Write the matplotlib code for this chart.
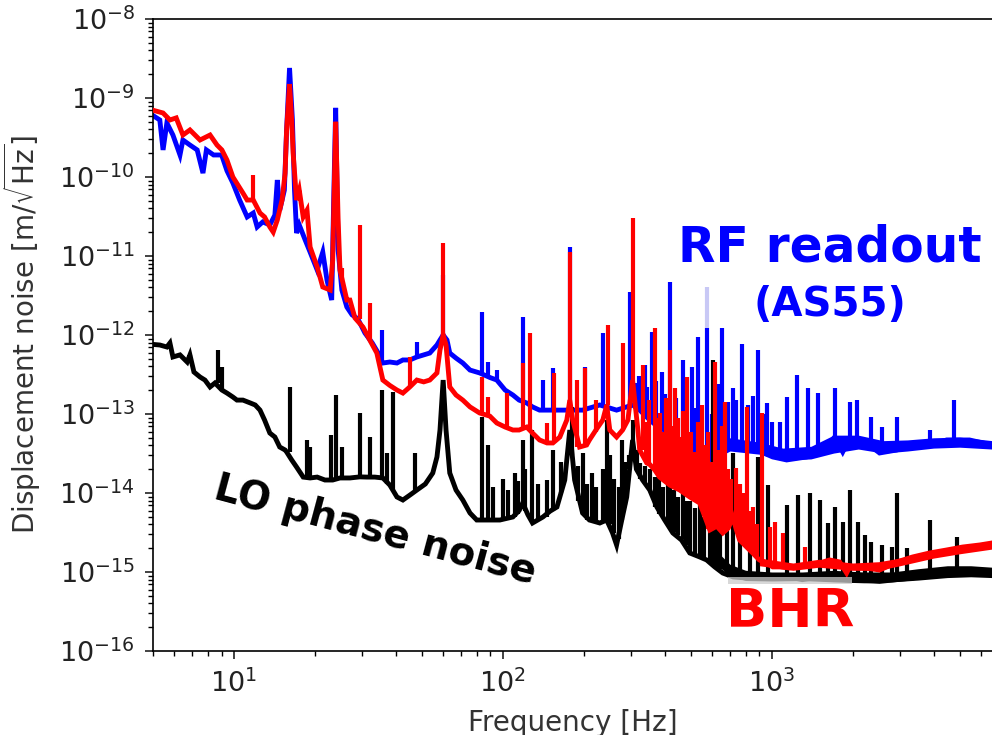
import matplotlib
matplotlib.use("Agg")
import matplotlib.pyplot as plt
from matplotlib.patches import Rectangle

# ---------------- data ----------------
# RF readout (AS55) - blue: broadband floor
blue_f = [5.0, 5.3, 5.45, 5.63, 5.93, 6.3, 6.46, 6.86, 7.3, 7.67, 7.9, 8.4, 9.0, 9.42, 9.91,
          10.5, 11.2, 11.8, 12.2, 12.8, 13.6, 14.2, 14.5, 14.8, 15.4, 15.7, 16.1, 16.5, 16.8,
          17.1, 17.5, 18.4, 19.2, 20.4, 21.4, 22.2, 23.1, 23.5, 23.9, 24.4, 25.2, 26.3, 27.5,
          28.9, 30.7, 32.7, 34.4, 35.8, 38, 40.4, 42.5, 45.1, 47.9, 50.8, 53.5, 56.9, 58.4,
          60, 62, 63.5, 67, 71, 75.5, 82, 89.5, 95, 102, 109, 115, 122.7, 129, 137, 153.6,
          173, 198, 229.5, 265, 304, 323, 352, 383, 429, 455, 496, 540, 573, 614, 680, 760,
          880, 1009, 1137, 1349, 1600, 1715, 1838, 1950, 2180, 2520, 2915, 3345, 3865, 4475,
          5445, 6600]
blue_v = [6.0e-10, 5.27e-10, 2.2e-10, 4.83e-10, 3.4e-10, 1.9e-10, 2.94e-10, 2.54e-10, 2.2e-10,
          1.12e-10, 2.2e-10, 1.9e-10, 1.9e-10, 1.2e-10, 8.39e-11, 5.11e-11, 3.12e-11, 3.5e-11,
          2.33e-11, 2.7e-11, 2.47e-11, 3.3e-11, 9.16e-11, 3.8e-11, 6.8e-11, 3.94e-10, 2.4e-9,
          5.3e-10, 6.8e-11, 1.95e-11, 2.47e-11, 1.6e-11, 1.12e-11, 6.65e-12, 1.12e-11, 4.9e-12,
          2.77e-12, 5.1e-11, 7.5e-10, 1.2e-11, 3.71e-12, 2.26e-12, 1.8e-12, 1.6e-12, 1.06e-12,
          7.92e-13, 5.91e-13, 4.42e-13, 4.55e-13, 4.42e-13, 4.83e-13, 4.83e-13, 5.27e-13,
          5.6e-13, 5.91e-13, 7.47e-13, 8.65e-13, 1.0e-12, 8.65e-13, 5.91e-13, 5.1e-13, 4.42e-13,
          3.6e-13, 3.31e-13, 2.9e-13, 2.69e-13, 2.01e-13, 1.74e-13, 1.5e-13, 1.38e-13, 1.23e-13,
          1.12e-13, 1.12e-13, 1.12e-13, 1.12e-13, 1.3e-13, 1.12e-13, 1.3e-13, 1.12e-13, 8.4e-14,
          6.6e-14, 5.74e-14, 4.69e-14, 3.5e-14, 2.86e-14, 2.5e-14, 3.0e-14, 4.3e-14, 3.82e-14,
          3.5e-14, 2.86e-14, 2.62e-14, 2.86e-14, 3.82e-14, 5.1e-14, 3.31e-14, 4.9e-14, 4.69e-14,
          3.21e-14, 3.5e-14, 4.05e-14, 4.05e-14, 4.69e-14, 4.69e-14, 4.05e-14]
# blue noise band (lower / upper envelope) at high frequency
blue_band_f = [560, 700, 900, 1100, 1400, 1700, 2100, 2600, 3200, 4000, 5000, 6600]
blue_band_lo = [2.3e-14, 3.4e-14, 3.1e-14, 2.6e-14, 2.7e-14, 3.2e-14, 3.6e-14, 3.2e-14, 3.4e-14,
                3.7e-14, 3.8e-14, 3.6e-14]
blue_band_hi = [3.2e-14, 5.0e-14, 4.4e-14, 3.7e-14, 3.9e-14, 5.4e-14, 5.4e-14, 4.6e-14, 4.7e-14,
                5.0e-14, 5.1e-14, 4.6e-14]
# blue spectral lines: frequency, foot, tip
blue_pk_f = [35.5, 47.9, 60, 83.5, 87.9, 95, 118.6, 141, 153.6, 177.5, 202, 235.5, 296.5, 310,
             320, 337, 345, 358, 370, 390, 400, 418, 440, 467, 480, 505, 520, 531, 545, 573, 600,
             630, 652, 690, 716, 740, 773, 820, 850, 887, 930, 958, 1000, 1071, 1137, 1240, 1361,
             1482, 1715, 1950, 2070, 2335, 2565, 2915, 3865, 4750]
blue_pk_lo = [4.4e-13, 5.3e-13, 1e-12, 3.3e-13, 2.9e-13, 2.7e-13, 1.4e-13, 1.1e-13, 1.1e-13,
              1.1e-13, 1.1e-13, 1.3e-13, 1.3e-13, 1.2e-13, 1.1e-13, 1.1e-13, 9e-14, 8.4e-14,
              7.5e-14, 6.6e-14, 6.3e-14, 6e-14, 5.2e-14, 4.7e-14, 4.3e-14, 3.5e-14, 3.2e-14,
              3e-14, 2.8e-14, 2.5e-14, 2.6e-14, 3.2e-14, 4e-14, 4.3e-14, 4e-14, 3.9e-14, 3.8e-14,
              3.7e-14, 3.5e-14, 3.5e-14, 3.2e-14, 3e-14, 2.9e-14, 2.8e-14, 2.6e-14, 2.7e-14,
              2.9e-14, 3.2e-14, 5e-14, 4.9e-14, 4.7e-14, 4.2e-14, 3.2e-14, 3.5e-14, 4e-14, 4.5e-14]
blue_pk_hi = [1.16e-12, 8.15e-13, 5.7e-12, 1.95e-12, 4.55e-13, 3.6e-13, 1.69e-12, 2.7e-13,
              3.8e-13, 1.3e-11, 3.94e-13, 1.06e-12, 3.5e-12, 2.5e-13, 3.0e-13, 4.17e-13, 2.2e-13,
              1.09e-12, 2.6e-13, 3.4e-13, 1.8e-13, 4.69e-12, 1.6e-13, 4.83e-13, 1.5e-13, 3.94e-13,
              1.2e-13, 9.43e-13, 1.1e-13, 1.23e-12, 1.0e-13, 2.4e-13, 1.23e-12, 1.4e-13, 2.13e-13,
              1.5e-13, 7.7e-13, 1.3e-13, 1.7e-13, 6.46e-13, 1.0e-13, 1.38e-13, 8.0e-14, 7.9e-14,
              1.64e-13, 3.12e-13, 2.13e-13, 1.84e-13, 2.13e-13, 1.42e-13, 1.5e-13, 9.16e-14,
              6.84e-14, 9.16e-14, 6.27e-14, 1.5e-13]
faint_pk_f = [573]
faint_pk_lo = [1.23e-12]
faint_pk_hi = [4.05e-12]

# BHR - red
red_f = [5.0, 5.45, 5.78, 6.1, 6.46, 6.86, 7.48, 8.15, 8.65, 9.02, 9.42, 9.91, 10.8, 11.2, 11.8,
         12.5, 13.0, 13.6, 14.0, 14.5, 15.1, 15.5, 15.7, 16.1, 16.4, 16.6, 17.1, 17.5, 18.1,
         18.7, 19.2, 20.4, 21.4, 22.8, 23.3, 23.9, 24.4, 24.8, 26.3, 27.0, 28.2, 30.2, 32.0,
         34.0, 35.8, 38.0, 40.4, 42.5, 45.1, 47.9, 50.8, 53.5, 56.9, 58.4, 60.0, 61.5, 63.5,
         67, 71, 75.5, 82, 89.5, 95, 102, 109, 115, 122.7, 129, 137, 146, 153.6, 163, 173,
         177.5, 182, 193, 205, 210, 222, 235.5, 243.5, 250, 265, 279, 292, 304, 318, 323, 343,
         352, 367, 383, 418, 455, 496, 540, 589, 625, 658, 690, 716, 740, 760, 807, 850, 900,
         958, 1009, 1071, 1160, 1271, 1384, 1507, 1643, 1790, 1900, 1950, 2218, 2520, 2740,
         2915, 3345, 3865, 4475, 5130, 5950, 6600]
red_v = [7.0e-10, 6.46e-10, 5.27e-10, 5.6e-10, 3.4e-10, 3.94e-10, 2.94e-10, 3.4e-10, 2.54e-10,
         2.2e-10, 1.64e-10, 1.0e-10, 6.27e-11, 5.11e-11, 5.11e-11, 3.5e-11, 3.12e-11, 2.33e-11,
         2.01e-11, 2.86e-11, 5.11e-11, 1.12e-10, 3.94e-10, 1.5e-9, 5.3e-10, 2.01e-10, 5.11e-11,
         6.8e-11, 3.12e-11, 3.8e-11, 1.3e-11, 7.26e-12, 4.05e-12, 3.71e-12, 8.9e-12, 5.0e-10,
         3.0e-11, 6.65e-12, 2.77e-12, 2.77e-12, 1.64e-12, 1.26e-12, 8.65e-13, 5.91e-13,
         2.69e-13, 2.3e-13, 2.01e-13, 1.84e-13, 2.2e-13, 2.69e-13, 2.55e-13, 2.69e-13, 3.31e-13,
         6.46e-13, 1.0e-12, 7.47e-13, 2.2e-13, 1.74e-13, 1.5e-13, 1.23e-13, 1.03e-13, 9.4e-14,
         7.69e-14, 6.84e-14, 6.27e-14, 6.27e-14, 6.84e-14, 5.74e-14, 4.69e-14, 4.3e-14, 4.3e-14,
         5.11e-14, 8.39e-14, 1.5e-13, 8.4e-14, 3.82e-14, 4.05e-14, 4.69e-14, 6.27e-14, 8.4e-14,
         1.3e-13, 6.27e-14, 5.11e-14, 6.27e-14, 8.4e-14, 2.69e-13, 6.27e-14, 3.5e-14, 2.4e-14,
         2.3e-14, 1.97e-14, 1.59e-14, 1.26e-14, 1.09e-14, 8.9e-15, 7.47e-15, 3.4e-15, 3.8e-15,
         3.12e-15, 3.6e-15, 4.97e-15, 3.4e-15, 2.54e-15, 2.07e-15, 1.74e-15, 1.42e-15, 1.3e-15,
         1.16e-15, 1.16e-15, 1.13e-15, 1.16e-15, 1.2e-15, 1.3e-15, 1.42e-15, 1.34e-15, 9.7e-16,
         1.16e-15, 1.13e-15, 1.06e-15, 1.2e-15, 1.34e-15, 1.55e-15, 1.74e-15, 1.9e-15, 2.07e-15,
         2.2e-15, 2.33e-15]
red_band_f = [900, 1200, 1500, 2000, 2500, 3000, 4000, 5000, 6600]
red_band_lo = [1.2e-15, 1.05e-15, 1.15e-15, 1.05e-15, 1.05e-15, 1.2e-15, 1.5e-15, 1.7e-15, 1.95e-15]
red_band_hi = [1.5e-15, 1.3e-15, 1.45e-15, 1.3e-15, 1.35e-15, 1.5e-15, 1.85e-15, 2.1e-15, 2.4e-15]
red_pk_f = [11.8, 25.2, 29.4, 32.0, 45.1, 60.0, 83.5, 87.9, 103.5, 118.6, 126, 146, 155, 177.5,
            188, 202, 223, 245.7, 279, 304, 331, 340, 350, 367, 375, 383, 395, 405, 418, 428,
            436, 448, 455, 470, 483, 500, 518, 530, 549, 565, 580, 600, 614, 630, 640, 655,
            669, 690, 705, 740, 760, 785, 807, 830, 850, 880, 918, 990, 1026, 1099, 1327]
red_pk_lo = [5.1e-11, 5e-12, 1.6e-12, 8.6e-13, 2.2e-13, 7.5e-13, 1.0e-13, 9.4e-14, 6.8e-14,
             6.5e-14, 6.5e-14, 4.3e-14, 4.3e-14, 1.5e-13, 3.8e-14, 4e-14, 6e-14, 1.3e-13, 6.3e-14,
             2.7e-13, 3.5e-14, 2.6e-14, 2.3e-14, 2.0e-14, 1.8e-14, 1.6e-14, 1.5e-14, 1.4e-14,
             1.3e-14, 1.25e-14, 1.2e-14, 1.1e-14, 1.1e-14, 1.0e-14, 9e-15, 8.5e-15, 8e-15,
             7.5e-15, 7e-15, 5e-15, 3.5e-15, 3.6e-15, 3.5e-15, 3.5e-15, 3.5e-15, 3.2e-15, 3.2e-15,
             3.6e-15, 4.5e-15, 3.4e-15, 2.6e-15, 2.3e-15, 2.1e-15, 1.9e-15, 1.7e-15, 1.6e-15,
             1.4e-15, 1.3e-15, 1.2e-15, 1.2e-15, 1.2e-15]
red_pk_hi = [1.06e-10, 7e-12, 2.47e-11, 2.54e-12, 5.27e-13, 1.46e-11, 2.94e-13, 1.64e-13,
             1.84e-13, 4.42e-13, 1.06e-12, 7.7e-14, 3.3e-13, 1.12e-11, 2.7e-13, 3.8e-13, 1.5e-13,
             1.34e-12, 7.9e-13, 3.0e-11, 4.2e-13, 8.0e-14, 1.5e-13, 1.23e-12, 9.0e-14, 1.03e-13,
             6.0e-14, 1.6e-13, 6.46e-13, 7.0e-14, 2.13e-13, 9.0e-14, 5.1e-14, 1.1e-13, 2.94e-13,
             6.0e-14, 3.3e-14, 8.0e-14, 1.3e-13, 4.0e-14, 6.0e-14, 2.5e-14, 4.55e-13, 3.5e-14,
             2.1e-14, 7.0e-14, 1.42e-13, 2.0e-14, 1.5e-14, 2.1e-14, 1.3e-14, 1.0e-14, 1.23e-13,
             6.0e-15, 6.65e-15, 4.0e-15, 1.03e-13, 3.7e-15, 4.3e-15, 3.1e-15, 2.07e-15]

# LO phase noise - black
black_f = [5.0, 5.3, 5.63, 5.78, 5.93, 6.3, 6.7, 6.86, 7.1, 7.48, 7.8, 8.15, 8.5, 9.02, 9.42,
           9.91, 10.26, 10.8, 11.5, 12.0, 12.5, 13.0, 13.6, 14.2, 14.8, 15.5, 15.7, 16.4, 17.1,
           18.1, 19.2, 20.4, 21.8, 23.3, 24.8, 27.0, 29.4, 31.2, 33.4, 35.8, 38, 40.4, 42.5,
           45.1, 47.9, 51.5, 54.9, 56.9, 58.4, 60, 61.5, 63.5, 67, 71, 75.5, 80, 89.5, 97.5,
           109, 115, 118.6, 124, 129, 141, 150, 159, 170, 177.5, 185, 198, 210, 229.5, 243.5,
           256, 265, 277, 289, 304, 314, 331, 352, 374, 400, 429, 462, 496, 540, 573, 614, 658,
           720, 800, 900, 1000, 1160, 1300, 1507, 1700, 1950, 2200, 2520, 2900, 3345, 3865,
           4475, 5130, 5950, 6600]
black_v = [7.6e-13, 7.47e-13, 7.05e-13, 7.92e-13, 5.27e-13, 5.6e-13, 4.55e-13, 5.6e-13, 3.4e-13,
           2.94e-13, 2.69e-13, 2.2e-13, 2.47e-13, 2.01e-13, 1.84e-13, 1.64e-13, 1.5e-13, 1.5e-13,
           1.38e-13, 1.3e-13, 1.12e-13, 8.39e-14, 5.74e-14, 5.11e-14, 3.82e-14, 3.5e-14, 3.31e-14,
           2.62e-14, 2.13e-14, 1.59e-14, 1.55e-14, 1.59e-14, 1.46e-14, 1.46e-14, 1.55e-14,
           1.55e-14, 1.6e-14, 1.59e-14, 1.59e-14, 1.55e-14, 1.26e-14, 8.9e-15, 8.15e-15, 9.4e-15,
           1.09e-14, 1.3e-14, 1.79e-14, 2.86e-14, 6.27e-14, 2.69e-13, 6.27e-14, 1.79e-14,
           1.09e-14, 8.15e-15, 5.58e-15, 4.55e-15, 4.55e-15, 4.55e-15, 4.97e-15, 6.0e-15,
           7.47e-15, 5.3e-15, 4.17e-15, 4.97e-15, 5.9e-15, 6.65e-15, 1.46e-14, 6.27e-14, 1.46e-14,
           5.58e-15, 4.55e-15, 4.17e-15, 4.55e-15, 3.12e-15, 2.2e-15, 4.55e-15, 8.9e-15, 4.69e-14,
           2.0e-14, 1.46e-14, 1.09e-14, 6.65e-15, 4.55e-15, 3.12e-15, 2.54e-15, 1.74e-15,
           1.55e-15, 1.42e-15, 1.16e-15, 9.7e-16, 8.65e-16, 8.4e-16, 8.4e-16, 8.65e-16, 8.65e-16,
           8.0e-16, 8.65e-16, 8.2e-16, 7.92e-16, 7.8e-16, 7.6e-16, 8.0e-16, 8.4e-16, 9.16e-16,
           1.06e-15, 1.06e-15, 1.0e-15, 9.7e-16]
black_band_f = [650, 700, 800, 1000, 1300, 1700, 2200, 2800, 3500, 4500, 5500, 6600]
black_band_lo = [1.1e-15, 9.0e-16, 7.8e-16, 7.7e-16, 7.8e-16, 7.5e-16, 7.3e-16, 7.5e-16, 7.9e-16,
                 8.5e-16, 8.7e-16, 8.5e-16]
black_band_hi = [1.6e-15, 1.25e-15, 1.05e-15, 1.0e-15, 1.0e-15, 1.05e-15, 1.0e-15, 1.0e-15,
                 1.1e-15, 1.2e-15, 1.2e-15, 1.15e-15]
black_pk_f = [8.73, 9.02, 16.1, 18.7, 19.2, 23.0, 23.9, 25.2, 29.4, 32, 35.5, 37.1, 39, 47.1,
              83.5, 87.9, 92, 100, 105, 111, 114, 118.6, 121, 128, 135, 146, 153.6, 165, 180.6,
              190, 198, 206, 215, 222, 235, 243.5, 250, 260, 270, 277, 285, 295, 304, 315, 323,
              337, 352, 367, 380, 393, 410, 420, 435, 450, 467, 480, 496, 518, 540, 560, 590,
              604, 625, 640, 680, 716, 760, 830, 887, 966, 1137, 1250, 1384, 1507, 1614, 1715,
              1838, 1950, 2090, 2218, 2335, 2565, 2795, 2915, 3177, 3865, 4875]
black_pk_lo = [2.5e-13, 2.0e-13, 3.3e-14, 1.6e-14, 1.55e-14, 1.46e-14, 1.46e-14, 1.55e-14,
               1.6e-14, 1.59e-14, 1.55e-14, 1.3e-14, 1.1e-14, 1.1e-14, 4.5e-15, 4.5e-15, 4.5e-15,
               4.5e-15, 4.6e-15, 5e-15, 5.5e-15, 7e-15, 6e-15, 4.5e-15, 4.6e-15, 5e-15, 6e-15,
               1e-14, 3e-14, 8e-15, 5.5e-15, 4.6e-15, 4.5e-15, 4.4e-15, 4.2e-15, 4.5e-15, 4e-15,
               3.1e-15, 2.6e-15, 4.5e-15, 7e-15, 2e-14, 4.7e-14, 2.0e-14, 1.5e-14, 1.3e-14,
               1.09e-14, 6.65e-15, 5.5e-15, 5e-15, 4.2e-15, 3.6e-15, 3.2e-15, 2.9e-15, 2.6e-15,
               2.2e-15, 1.74e-15, 1.6e-15, 1.55e-15, 1.45e-15, 1.3e-15, 1.2e-15, 1.1e-15,
               1.1e-15, 9.5e-16, 8.7e-16, 8.4e-16, 8.4e-16, 8.4e-16, 8.5e-16, 8.65e-16, 8.65e-16,
               8.6e-16, 8.65e-16, 8.5e-16, 8.2e-16, 8.0e-16, 7.9e-16, 7.8e-16, 7.8e-16, 7.7e-16,
               7.6e-16, 7.8e-16, 8.0e-16, 8.2e-16, 9.16e-16, 1.0e-15]
black_pk_hi = [6.46e-13, 3.94e-13, 2.2e-13, 4.69e-14, 3.82e-14, 5.4e-14, 1.74e-13, 3.82e-14,
               1.03e-13, 5.11e-14, 2.01e-13, 3.21e-14, 1.9e-13, 3.21e-14, 9.16e-14, 4.05e-14,
               1.2e-14, 1.5e-14, 1.1e-14, 1.79e-14, 1.4e-14, 4.69e-14, 2.0e-14, 6.27e-14,
               1.3e-14, 1.46e-14, 3.5e-14, 2.5e-14, 1.23e-13, 2.2e-14, 3.21e-14, 1.3e-14, 1.8e-14,
               1.2e-14, 2.0e-14, 8.4e-14, 3.0e-14, 1.5e-14, 1.2e-14, 4.69e-14, 2.5e-14, 3.0e-14,
               8.39e-14, 3.5e-14, 2.4e-14, 2.2e-14, 2.0e-14, 1.6e-14, 1.8e-14, 1.19e-14, 1.5e-14,
               1.3e-14, 1.1e-14, 9.0e-15, 3.5e-14, 8.0e-15, 8.0e-15, 6.5e-15, 7.0e-15, 5.0e-15,
               6.0e-15, 4.83e-13, 4.0e-15, 5.0e-15, 4.5e-15, 3.21e-14, 5.0e-15, 3.0e-15, 2.86e-14,
               1.26e-14, 7.05e-15, 9.4e-15, 1.0e-14, 8.15e-15, 4.17e-15, 6.65e-15, 4.3e-15,
               1.09e-14, 4.3e-15, 2.94e-15, 2.4e-15, 2.2e-15, 2.07e-15, 1.0e-14, 2.01e-15,
               4.55e-15, 2.77e-15]

x_range = (5, 6600)
y_range = (1e-16, 1e-8)

# ---------------- figure ----------------
fig = plt.figure(figsize=(9.92, 7.35), dpi=100)
ax = fig.add_axes([153 / 992, (735 - 651) / 735, 839 / 992, 632 / 735])

lw = 3.5
plw = 3.0
ax.plot(blue_f, blue_v, color="#0000ff", lw=lw, zorder=2, solid_joinstyle="miter")
ax.fill_between(blue_band_f, blue_band_lo, blue_band_hi, color="#0000ff", lw=0, zorder=2)
ax.vlines(blue_pk_f, blue_pk_lo, blue_pk_hi, color="#0000ff", lw=plw, zorder=2)
ax.vlines(faint_pk_f, faint_pk_lo, faint_pk_hi, color="#c8c8f5", lw=plw, zorder=2)

ax.plot(black_f, black_v, color="black", lw=lw, zorder=3, solid_joinstyle="miter")
ax.fill_between(black_band_f, black_band_lo, black_band_hi, color="black", lw=0, zorder=3)
ax.vlines(black_pk_f, black_pk_lo, black_pk_hi, color="black", lw=plw, zorder=3)

ax.plot(red_f, red_v, color="#ff0000", lw=lw, zorder=4, solid_joinstyle="miter")
ax.fill_between(red_band_f, red_band_lo, red_band_hi, color="#ff0000", lw=0, zorder=4)
ax.vlines(red_pk_f, red_pk_lo, red_pk_hi, color="#ff0000", lw=plw, zorder=4)

ax.set_xscale("log")
ax.set_yscale("log")
ax.set_xlim(*x_range)
ax.set_ylim(*y_range)

ax.spines["right"].set_visible(False)
for s in ["left", "bottom", "top"]:
    ax.spines[s].set_linewidth(1.2)

ax.tick_params(which="major", labelsize=19.5, length=6, width=1.2, colors="#222222", pad=7)
ax.tick_params(which="minor", length=3.5, width=1.0)
ax.tick_params(axis="y", which="both", right=False)

ax.set_xlabel("Frequency [Hz]", fontsize=20, color="#333333", labelpad=8)
ax.set_ylabel(r"Displacement noise [m/$\sqrt{\mathrm{Hz}}$]", fontsize=20,
              color="#333333", labelpad=12)

# annotations
ax.text(0.807, 0.638, "RF readout", transform=ax.transAxes, color="#0000ff",
        fontsize=35, fontweight="bold", ha="center", va="center", zorder=6)
ax.text(0.807, 0.547, "(AS55)", transform=ax.transAxes, color="#0000ff",
        fontsize=29, fontweight="bold", ha="center", va="center", zorder=6)
ax.text(0.265, 0.19, "LO phase noise", transform=ax.transAxes, color="black",
        fontsize=28, fontweight="bold", ha="center", va="center", rotation=-15, zorder=6)
ax.add_patch(Rectangle((0.685, 0.106), 0.148, 0.011, transform=ax.transAxes,
                       facecolor="#cccccc", edgecolor="none", alpha=0.75, zorder=5))
ax.text(0.759, 0.062, "BHR", transform=ax.transAxes, color="#ff0000",
        fontsize=39, fontweight="bold", ha="center", va="center", zorder=6)

fig.savefig("out.png", dpi=100)
